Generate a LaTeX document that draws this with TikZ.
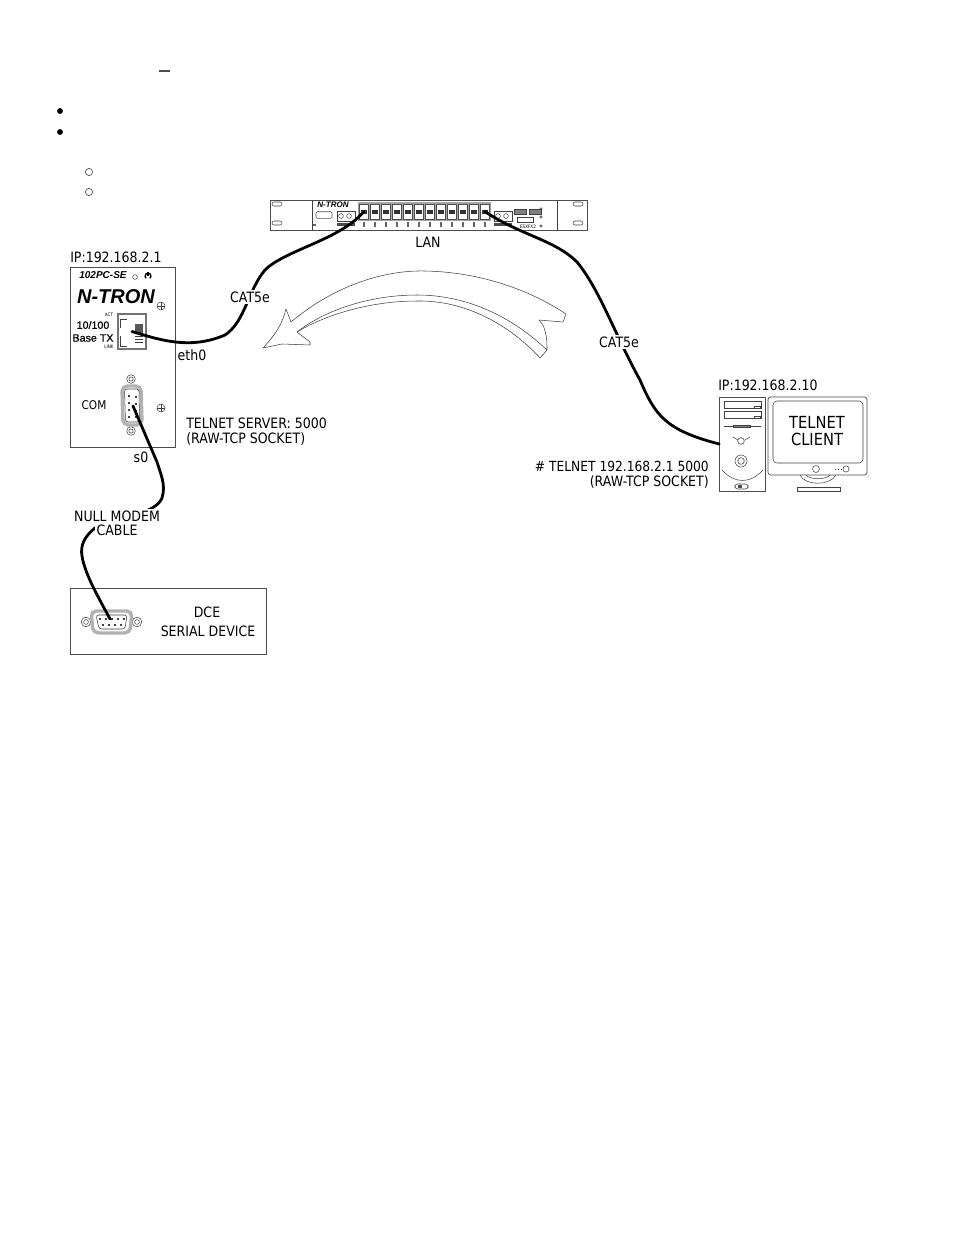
\documentclass[tikz,border=0pt]{standalone}
\usepackage{fontspec}
\setmainfont[FakeStretch=0.88]{DejaVu Sans}
\newfontfamily\logofont{Liberation Sans}
\newfontfamily\portfont[FakeBold=0.6]{Liberation Sans}
\tikzset{
  lbl/.style={inner sep=0pt,font=\fontsize{10.7}{12}\selectfont},
  tiny/.style={inner sep=0pt,font=\fontsize{3.5}{4}\selectfont},
  box/.style={draw=black!70,line width=0.5pt,inner sep=0pt},
  cable/.style={line width=2.1pt,line cap=round},
  thin line/.style={draw=black!75,line width=0.4pt}
}
\begin{document}
\begin{tikzpicture}[x=0.75pt,y=-0.75pt]
\useasboundingbox[fill=white] (0,0) rectangle (954,1235);

% leftovers of the page
\draw[line width=1pt,black!70] (159,71) -- (170,71);
\foreach \y in {111,132}
  \fill (60,\y) circle (2.2pt);
\foreach \y in {172,192}
  \draw[black!70,line width=0.5pt] (89,\y) circle (2.7pt);

% switch
\node [box,minimum width=237.75pt,minimum height=22.5pt] (switch) at (428.5,215) {};
\draw[thin line] (312,200) -- (312,230) (557,200) -- (557,230);
\foreach \x in {277,578} \foreach \y in {204,223}
  \draw[thin line,rounded corners=1.5pt] (\x-5,\y-2) rectangle (\x+5,\y+2);
\node [inner sep=0pt,font=\logofont\bfseries\itshape\fontsize{6}{6}\selectfont] (logosw) at (333,205) {N-TRON};
\node [box,rounded corners=1pt,minimum width=12pt,minimum height=5pt] (comsw) at (324,215) {};
\fill[black!60] (312.5,223.5) rectangle (316,226);
\draw[thin line] (337,211) rectangle (355,221);
\foreach \x in {341,349} \draw[thin line] (\x,216) circle (1.8pt);
\fill[black!70] (337,223) rectangle (355,226);
\fill[black!35] (358,202) rectangle (491,221);
\foreach \x/\n in {359/a,370/b,381/c,392/d,403/e,414/f,425/g,436/h,447/i,458/j,469/k,480/l}{
  \node [draw=black!70,fill=white,line width=0.3pt,minimum width=7pt,minimum height=11pt,inner sep=0pt,anchor=north west] (port\n) at (\x,204) {};
  \fill[black!80] (\x+2,209.5) rectangle (\x+7.5,214);
  \fill[black!60] (\x+4,222) rectangle (\x+6,227);
}
\draw[thin line] (494,211) rectangle (512,221);
\foreach \x in {498,506} \draw[thin line] (\x,216) circle (1.8pt);
\fill[black!70] (494,223) rectangle (512,226);
\foreach \x in {514,529} \draw[thin line,fill=black!50] (\x,209) rectangle (\x+12,214);
\draw[thin line] (517,217) rectangle (533,222);
\node [tiny] (swlabel) at (528,227) {ESXFX2};
\foreach \y in {209,217,226} \draw[thin line] (541,\y) circle (1pt);
\node [lbl] (lan) at (428,242) {LAN};

% server
\node [box,minimum width=78.75pt,minimum height=135pt] (server) at (122.5,357.5) {};
\node [lbl,anchor=west] (ipserver) at (70,257) {IP:192.168.2.1};
\node [inner sep=0pt,font=\logofont\bfseries\itshape\fontsize{7.5}{8}\selectfont] (model) at (103,275) {102PC-SE};
\draw[thin line] (135,277) circle (1.8pt);
\draw[line width=1pt] (148,276) ++(-50:2.2pt) arc (-50:230:2.2pt);
\draw[line width=1pt] (148,272) -- (148,276);
\node [inner sep=0pt,font=\logofont\bfseries\itshape\fontsize{15}{16}\selectfont] (logo) at (116,297) {N-TRON};
\foreach \y/\n in {306/a,408/b}{
  \draw[thin line] (161,\y) circle (3pt);
  \draw[thin line] (157,\y) -- (165,\y) (161,\y-4) -- (161,\y+4);
}
\node [tiny] (act) at (109,315) {ACT};
\node [tiny] (link) at (109,347) {LINK};
\node [inner sep=0pt,font=\portfont\fontsize{8}{9}\selectfont] (speed) at (93,325) {10/100};
\node [inner sep=0pt,font=\portfont\fontsize{8}{9}\selectfont] (base) at (93,338) {Base TX};
\node [draw=black!55,line width=1.1pt,minimum width=21pt,minimum height=26pt,inner sep=0pt] (rj) at (132,331.5) {};
\fill[black!65] (135,324) rectangle (143,334);
\foreach \y in {336,339,342} \draw[thin line] (135,\y) -- (143,\y);
\draw[thin line] (120,319) -- (120,328) (120,336) -- (120,346) -- (127,346) (120,319) -- (127,319);
\node [inner sep=0pt,font=\fontsize{9}{10}\selectfont] (com) at (94,405) {COM};
\foreach \y in {379,431} {
  \draw[thin line] (131,\y) circle (3.2pt);
  \draw[thin line] (131,\y) circle (1.6pt);
}
\draw[draw=black!30,line width=2.6pt,rounded corners=4pt] (122,386) -- (141,386) -- (142,425) -- (123,425) -- cycle;
\draw[thin line,rounded corners=2pt] (124.5,389) -- (139,389) -- (139.5,422) -- (125.5,422) -- cycle;
\foreach \y in {393,400,407,414}
  \fill (129,\y+3) circle (0.9pt);
\foreach \y in {397,404,411,417}
  \fill (136,\y) circle (0.9pt);
\coordinate (dsubpin) at (133,406);
\node [lbl,anchor=west] (server1) at (186,423) {TELNET SERVER: 5000};
\node [lbl,anchor=west] (server2) at (186,439) {(RAW-TCP SOCKET)};

% client
\node [box,minimum width=34.5pt,minimum height=70.5pt] (tower) at (742.5,444) {};
\node [lbl,anchor=west] (ipclient) at (718,385) {IP:192.168.2.10};
\foreach \y in {401,411} {
  \draw[thin line] (724,\y) rectangle (761,\y+7);
  \draw[thin line] (754,\y+5) rectangle (760,\y+7);
}
\draw[thin line] (724,426) -- (761,426);
\draw[thin line,fill=black!50] (733,425) rectangle (750,427);
\draw[thin line] (741,441) circle (2.5pt);
\draw[thin line] (733,437) -- (738,440) (750,437) -- (745,440);
\draw[thin line] (741,461) circle (4.5pt);
\draw[thin line] (741,461) circle (2.5pt);
\draw[thin line] (722,470) .. controls (735,484) and (750,484) .. (763,470);
\draw[thin line,rounded corners=2pt] (735,484) rectangle (748,489);
\fill[black!70] (738,485) rectangle (742,488);
\node [box,rounded corners=2pt,minimum width=74.25pt,minimum height=58.5pt] (monitor) at (817.5,436) {};
\draw[thin line,rounded corners=3pt] (773,401) rectangle (863,463);
\node [align=center,inner sep=0pt,font=\fontsize{12.5}{12.7}\selectfont] (clientlabel) at (817,431.5) {TELNET\\CLIENT};
\draw[thin line] (816,469) circle (2.6pt);
\draw[thin line] (846,469) circle (2.3pt);
\draw[thin line,dotted] (835,469) -- (842,469);
\draw[thin line] (800,475) .. controls (805,486) and (830,486) .. (836,475);
\draw[thin line] (806,475) .. controls (810,480) and (826,480) .. (830,475);
\draw[thin line] (797,491) -- (840,491) -- (840,487) -- (797,487) -- cycle;
\node [lbl,anchor=east,font=\fontsize{10.45}{12}\selectfont] (client1) at (709,466) {\# TELNET 192.168.2.1 5000};
\node [lbl,anchor=east] (client2) at (709,482) {(RAW-TCP SOCKET)};

% serial device
\node [box,minimum width=147pt,minimum height=49.5pt] (dce) at (168,621) {};
\foreach \x in {86,137} {
  \draw[thin line] (\x,622) circle (3.6pt);
  \draw[thin line] (\x,622) circle (1.8pt);
}
\draw[draw=black!30,fill=white,line width=2.6pt,rounded corners=4pt] (91,611) -- (132,611) -- (130,633) -- (93,633) -- cycle;
\draw[thin line,rounded corners=2pt] (96,615) -- (127,615) -- (125,629) -- (99,629) -- cycle;
\foreach \x in {100,106,112,118,124}
  \fill (\x,619) circle (0.8pt);
\foreach \x in {103,109,115,121}
  \fill (\x,625) circle (0.8pt);
\coordinate (dbpin) at (110,619);
\node [lbl] (dcelabel) at (207,612) {DCE};
\node [lbl] (dcename) at (208,631) {SERIAL DEVICE};

% big arrow
\draw[thin line,fill=white,line join=round] (291,322)
  .. controls (335,285) and (385,270) .. (425,271)
  .. controls (480,272) and (530,290) .. (566,314)
  -- (563,322) -- (539,320) -- (543,325)
  .. controls (547,335) and (547,342) .. (547,350)
  -- (540,358)
  .. controls (510,325) and (465,300) .. (417,301)
  .. controls (370,301) and (325,315) .. (297,332)
  -- (310,342) -- (310,345) -- (282,344) -- (263,348)
  .. controls (275,335) and (282,325) .. (286,309) -- cycle;
\draw[thin line] (547,350) .. controls (510,315) and (465,295) .. (417,295)
  .. controls (370,295) and (325,310) .. (297,332);

% cables
\draw[cable] (dsubpin) -- (157,462) .. controls (161,475) and (166,485) .. (162,498)
  .. controls (155,515) and (120,515) .. (95,528)
  .. controls (85,536) and (80,545) .. (82,556)
  .. controls (85,575) and (100,600) .. (dbpin);
\draw[cable] (rj.center) .. controls (160,340) and (190,350) .. (225,335)
  .. controls (245,322) and (248,290) .. (265,270)
  .. controls (285,250) and (340,240) .. (porta.center);
\draw[cable] (portl.center) .. controls (520,235) and (555,240) .. (577,262)
  .. controls (600,290) and (615,335) .. (640,380)
  .. controls (655,415) and (665,430) .. (tower.west);
\node [lbl,fill=white,inner sep=1pt] (cat1) at (250,297) {CAT5e};
\node [lbl,fill=white,inner sep=1pt] (cat2) at (619,342) {CAT5e};
\node [lbl,fill=white,inner sep=1pt] (null1) at (117,516) {NULL MODEM};
\node [lbl,fill=white,inner sep=1pt] (null2) at (117,530) {CABLE};
\node [lbl] (eth) at (192,355) {eth0};
\node [lbl] (szero) at (141,457) {s0};
\end{tikzpicture}
\end{document}
